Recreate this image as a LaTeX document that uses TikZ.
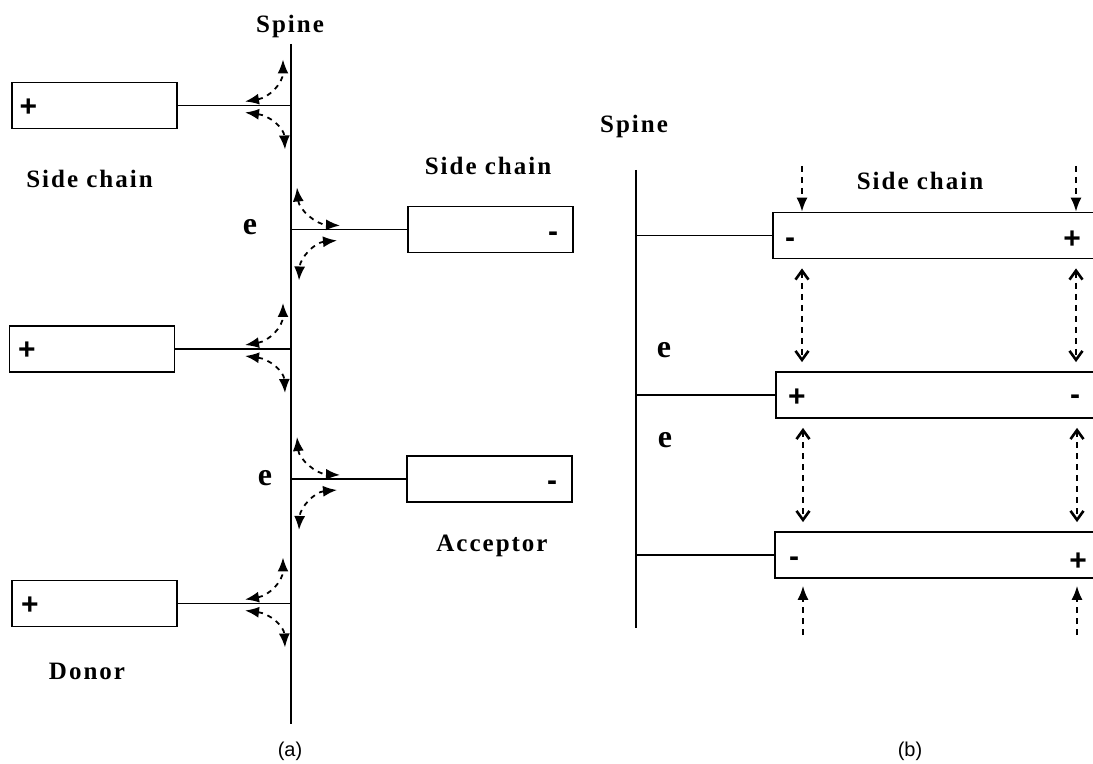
\documentclass[tikz,border=0pt]{standalone}
\usepackage{fontspec}
\setmainfont{Liberation Serif}
\setsansfont{Liberation Sans}
\newfontfamily\spacedfont[LetterSpace=8]{Liberation Serif}
\usetikzlibrary{arrows.meta}

\begin{document}
\begin{tikzpicture}[x=0.5pt, y=-0.5pt, line width=0.9pt,
    chainbox/.style={draw, inner sep=0pt, minimum width=82.5pt, minimum height=23pt},
    longbox/.style={draw, inner sep=0pt, anchor=west, minimum width=166pt, minimum height=23pt},
    tag/.style={font=\spacedfont\bfseries\fontsize{12.5}{14}\selectfont, anchor=base, inner sep=0pt},
    elabel/.style={font=\bfseries\fontsize{16}{18}\selectfont, anchor=base, inner sep=0pt},
    sign/.style={font=\sffamily\bfseries\fontsize{15}{17}\selectfont, anchor=base, inner sep=0pt},
    panel/.style={font=\sffamily\fontsize{10}{12}\selectfont, anchor=base, inner sep=0pt},
    curvy/.style={dashed, dash pattern=on 2.5pt off 2.5pt, {Latex[length=7pt,width=5.5pt]}-{Latex[length=7pt,width=5.5pt]}},
    push/.style={dashed, dash pattern=on 3pt off 2.5pt, -{Latex[length=7pt,width=5.5pt]}},
    swap/.style={dashed, dash pattern=on 3pt off 2.5pt, {Straight Barb[length=4.5pt,width=6.5pt,line width=1.3pt]}-{Straight Barb[length=4.5pt,width=6.5pt,line width=1.3pt]}, shorten <=4.5pt, shorten >=4.5pt}]

\useasboundingbox (0,0) rectangle (1093,764);
\clip (0,0) rectangle (1093,764);

% ---- panel (a)
\coordinate (sa-top) at (291,44);
\coordinate (sa-bot) at (291,724);
\draw (sa-top) -- (sa-bot);
\node[tag] (spine-a) at (290,33) {Spine};

\node[chainbox] (d1) at (94.5,105.5) {};
\node[chainbox] (d2) at (92,349) {};
\node[chainbox] (d3) at (94.5,603.5) {};
\node[chainbox] (a1) at (490.5,229.5) {};
\node[chainbox] (a2) at (489.5,479) {};

\node[sign] (d1s) at (28.5,117) {+};
\node[sign] (d2s) at (27,360) {+};
\node[sign] (d3s) at (30,615) {+};
\node[sign] (a1s) at (553,242) {-};
\node[sign] (a2s) at (552,491) {-};

\foreach \b in {d1,d2,d3} {
  \draw (\b.east) -- (\b.east -| sa-top) coordinate (j);
  \draw[curvy] ([shift={(-46,-4)}]j) .. controls ([shift={(-22,-8)}]j) and ([shift={(-8,-22)}]j) .. ([shift={(-8,-46)}]j);
  \draw[curvy] ([shift={(-46,7)}]j) .. controls ([shift={(-22,10)}]j) and ([shift={(-7,22)}]j) .. ([shift={(-6,44)}]j);
}
\foreach \b in {a1,a2} {
  \draw (\b.west) -- (\b.west -| sa-top) coordinate (j);
  \draw[curvy] ([shift={(6,-42)}]j) .. controls ([shift={(8,-20)}]j) and ([shift={(25,-5)}]j) .. ([shift={(49,-4)}]j);
  \draw[curvy] ([shift={(46,11)}]j) .. controls ([shift={(24,13)}]j) and ([shift={(9,28)}]j) .. ([shift={(8,51)}]j);
}

\node[tag] (side-l) at (89.5,188) {Side chain};
\node[tag] (side-r) at (488,175) {Side chain};
\node[tag] (acceptor) at (492,552) {Acceptor};
\node[tag] (donor) at (87,679) {Donor};
\node[elabel] (e1) at (250,235) {e};
\node[elabel] (e2) at (265,486) {e};
\node[panel] (cap-a) at (290,756) {(a)};

% ---- panel (b)
\coordinate (sb-top) at (636,170);
\coordinate (sb-bot) at (636,628);
\draw (sb-top) -- (sb-bot);
\node[tag] (spine-b) at (634,133) {Spine};
\node[tag] (side-b) at (920,190) {Side chain};

\node[longbox] (b1) at (772,235.5) {};
\node[longbox] (b2) at (775,395) {};
\node[longbox] (b3) at (774,555) {};
\foreach \b in {b1,b2,b3}
  \draw (\b.west) -- (\b.west -| sb-top);

\node[sign] (b1l) at (790,248) {-};
\node[sign] (b1r) at (1072,249) {+};
\node[sign] (b2l) at (797,407) {+};
\node[sign] (b2r) at (1075,405) {-};
\node[sign] (b3l) at (794,567) {-};
\node[sign] (b3r) at (1078,571) {+};

\node[elabel] (e3) at (664,358) {e};
\node[elabel] (e4) at (665,448) {e};

\coordinate (tl) at (802,166);
\coordinate (tr) at (1076,166);
\coordinate (bl) at (803,635);
\coordinate (br) at (1077,635);
\draw[push] (tl) -- (tl |- b1.north);
\draw[push] (tr) -- (tr |- b1.north);
\draw[swap] (tl |- b1.south) -- (tl |- b2.north);
\draw[swap] (tr |- b1.south) -- (tr |- b2.north);
\draw[swap] (bl |- b2.south) -- (bl |- b3.north);
\draw[swap] (br |- b2.south) -- (br |- b3.north);
\draw[push, shorten >=3.5pt] (bl) -- (bl |- b3.south);
\draw[push, shorten >=3.5pt] (br) -- (br |- b3.south);
\node[panel] (cap-b) at (910,756) {(b)};
\end{tikzpicture}
\end{document}
